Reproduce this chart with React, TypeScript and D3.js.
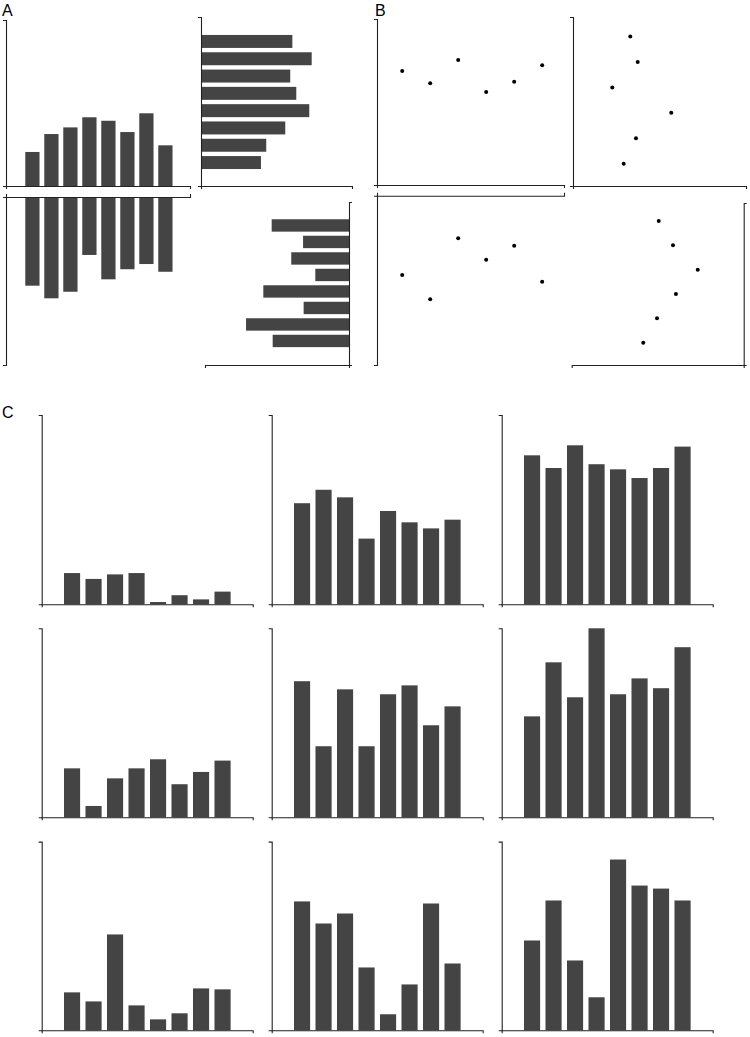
import React, { useRef, useEffect } from 'react'
import * as d3 from 'd3'

// Panel A - mirrored bar charts
const aUpValues = [0.205, 0.313, 0.353, 0.414, 0.393, 0.325, 0.438, 0.245]
const aDownValues = [0.528, 0.603, 0.564, 0.345, 0.49, 0.43, 0.399, 0.445]
const aRightValues = [0.605, 0.733, 0.591, 0.631, 0.717, 0.558, 0.432, 0.397]
const aLeftValues = [0.537, 0.319, 0.401, 0.234, 0.595, 0.315, 0.715, 0.53]

// Panel B - dot plots
const bTopLeftY = [0.687, 0.613, 0.753, 0.56, 0.622, 0.721]
const bTopRightX = [0.331, 0.374, 0.227, 0.568, 0.364, 0.293]
const bBottomLeftY = [0.468, 0.612, 0.252, 0.378, 0.295, 0.508]
const bBottomRightX = [0.494, 0.411, 0.267, 0.394, 0.504, 0.584]

// Panel C - 3x3 grid of bar charts
const c11 = [0.165, 0.134, 0.158, 0.165, 0.012, 0.048, 0.026, 0.067]
const c12 = [0.534, 0.605, 0.565, 0.347, 0.493, 0.433, 0.401, 0.447]
const c13 = [0.787, 0.72, 0.84, 0.74, 0.713, 0.667, 0.72, 0.833]
const c21 = [0.259, 0.06, 0.206, 0.259, 0.307, 0.175, 0.24, 0.3]
const c22 = [0.72, 0.376, 0.677, 0.376, 0.651, 0.698, 0.487, 0.587]
const c23 = [0.534, 0.82, 0.635, 1.0, 0.651, 0.735, 0.683, 0.9]
const c31 = [0.201, 0.153, 0.508, 0.132, 0.058, 0.09, 0.222, 0.217]
const c32 = [0.683, 0.566, 0.619, 0.333, 0.085, 0.243, 0.672, 0.354]
const c33 = [0.476, 0.688, 0.37, 0.175, 0.905, 0.767, 0.751, 0.688]
const cGrid = [[c11, c12, c13], [c21, c22, c23], [c31, c32, c33]]

const BAR = '#444444'
const AXIS = '#222222'

type Orient = 'left' | 'right' | 'top' | 'bottom'

const App: React.FC = () => {
  const svgRef = useRef<SVGSVGElement>(null)

  useEffect(() => {
    if (!svgRef.current) return
    const svg = d3.select(svgRef.current)
    svg.selectAll('*').remove()

    const drawAxis = (orient: Orient, range: [number, number], pos: number) => {
      const s = d3.scaleLinear().range(range)
      const gen = orient === 'left' ? d3.axisLeft(s)
        : orient === 'right' ? d3.axisRight(s)
        : orient === 'top' ? d3.axisTop(s)
        : d3.axisBottom(s)
      gen.tickValues([]).tickSizeOuter(3)
      const vertical = orient === 'left' || orient === 'right'
      const g = svg.append('g')
        .attr('transform', vertical ? `translate(${pos},0)` : `translate(0,${pos})`)
        .call(gen)
      g.select('.domain').attr('stroke', AXIS).attr('stroke-width', 1.1)
    }

    const band = (r0: number, r1: number) =>
      d3.scaleBand<number>().domain(d3.range(8)).range([r0, r1]).paddingInner(0.25).paddingOuter(0.125)

    // ---- Panel A ----
    // top-left: bars going up
    {
      const x = band(22.9, 174.9)
      const y = d3.scaleLinear().domain([0, 1]).range([186, 20])
      svg.append('g').selectAll('rect').data(aUpValues).enter().append('rect')
        .attr('x', (d, i) => x(i)!)
        .attr('y', d => y(d))
        .attr('width', x.bandwidth())
        .attr('height', d => y(0) - y(d))
        .attr('fill', BAR)
      drawAxis('left', [186, 20], 6)
      drawAxis('bottom', [6, 190], 186)
    }
    // bottom-left: bars going down
    {
      const x = band(22.9, 174.9)
      const y = d3.scaleLinear().domain([0, 1]).range([197, 365])
      svg.append('g').selectAll('rect').data(aDownValues).enter().append('rect')
        .attr('x', (d, i) => x(i)!)
        .attr('y', y(0))
        .attr('width', x.bandwidth())
        .attr('height', d => y(d) - y(0))
        .attr('fill', BAR)
      drawAxis('left', [197, 365], 6)
      drawAxis('top', [6, 190], 197)
    }
    // top-right: bars going right
    {
      const yb = band(32.8, 171.2)
      const x = d3.scaleLinear().domain([0, 1]).range([201, 352])
      svg.append('g').selectAll('rect').data(aRightValues).enter().append('rect')
        .attr('x', x(0))
        .attr('y', (d, i) => yb(i)!)
        .attr('width', d => x(d) - x(0))
        .attr('height', yb.bandwidth())
        .attr('fill', BAR)
      drawAxis('left', [186, 17], 201)
      drawAxis('bottom', [201, 352], 186)
    }
    // bottom-right: bars going left
    {
      const yb = band(217.2, 349.2)
      const x = d3.scaleLinear().domain([0, 1]).range([349, 205])
      svg.append('g').selectAll('rect').data(aLeftValues).enter().append('rect')
        .attr('x', d => x(d))
        .attr('y', (d, i) => yb(i)!)
        .attr('width', d => x(0) - x(d))
        .attr('height', yb.bandwidth())
        .attr('fill', BAR)
      drawAxis('right', [365, 202], 349)
      drawAxis('bottom', [205, 349], 365)
    }

    // ---- Panel B ----
    const dots = (pts: [number, number][]) => {
      svg.append('g').selectAll('circle').data(pts).enter().append('circle')
        .attr('cx', d => d[0])
        .attr('cy', d => d[1])
        .attr('r', 2)
        .attr('fill', '#000')
    }
    {
      const x = d3.scaleLinear().domain([-0.9, 5.78]).range([377, 564])
      const y = d3.scaleLinear().domain([0, 1]).range([185, 19])
      dots(bTopLeftY.map((v, i) => [x(i), y(v)]))
      drawAxis('left', [185, 19], 377)
      drawAxis('bottom', [377, 564], 185)
    }
    {
      const y = d3.scaleLinear().domain([-0.76, 5.88]).range([17.3, 186])
      const x = d3.scaleLinear().domain([0, 1]).range([573, 746])
      dots(bTopRightX.map((v, i) => [x(v), y(i)]))
      drawAxis('left', [186, 17], 573)
      drawAxis('bottom', [573, 746], 186)
    }
    {
      const x = d3.scaleLinear().domain([-0.9, 5.78]).range([377, 564])
      const y = d3.scaleLinear().domain([0, 1]).range([195.7, 365])
      dots(bBottomLeftY.map((v, i) => [x(i), y(v)]))
      drawAxis('left', [195.7, 365], 377)
      drawAxis('top', [377, 564], 195.7)
    }
    {
      const y = d3.scaleLinear().domain([-0.73, 5.92]).range([203.3, 365])
      const x = d3.scaleLinear().domain([0, 1]).range([743.7, 571.7])
      dots(bBottomRightX.map((v, i) => [x(v), y(i)]))
      drawAxis('right', [365, 203], 743.7)
      drawAxis('bottom', [571.7, 743.7], 365)
    }

    // ---- Panel C ----
    cGrid.forEach((row, r) => {
      row.forEach((vals, c) => {
        const ax = 41.7 + 230 * c
        const top = 415 + 213.3 * r
        const bottom = 604.3 + 213 * r
        const x = band(ax + 19.6, ax + 191.6)
        const y = d3.scaleLinear().domain([0, 1]).range([bottom, top])
        svg.append('g').selectAll('rect').data(vals).enter().append('rect')
          .attr('x', (d, i) => x(i)!)
          .attr('y', d => y(d))
          .attr('width', x.bandwidth())
          .attr('height', d => y(0) - y(d))
          .attr('fill', BAR)
        drawAxis('left', [bottom, top], ax)
        drawAxis('bottom', [ax, ax + 211], bottom)
      })
    })

    // panel letters
    const labels: [string, number, number][] = [['A', 2, 15.5], ['B', 375, 15.5], ['C', 2, 418]]
    svg.selectAll('text.panel').data(labels).enter().append('text')
      .attr('class', 'panel')
      .attr('x', d => d[1])
      .attr('y', d => d[2])
      .attr('font-family', "'Liberation Sans', Arial, sans-serif")
      .attr('font-size', 16)
      .attr('fill', '#000')
      .text(d => d[0])
  }, [])

  return (
    <svg
      ref={svgRef}
      width={750}
      height={1037}
      style={{ position: 'absolute', left: 0, top: 0, background: '#fff' }}
    />
  )
}

export default App
